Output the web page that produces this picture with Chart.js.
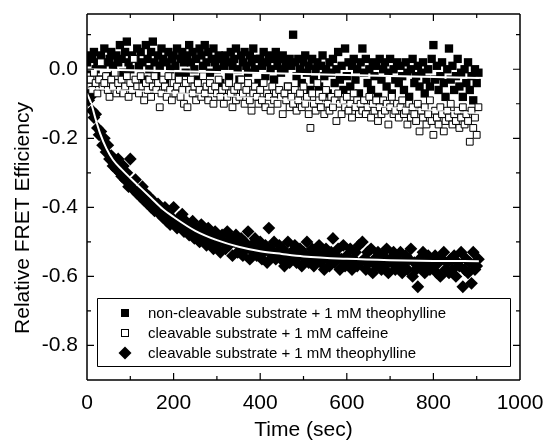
<!DOCTYPE html>
<html>
<head>
<meta charset="utf-8">
<script src="https://cdn.jsdelivr.net/npm/chart.js@4.4.1/dist/chart.umd.min.js"></script>
<style>
  html, body { margin: 0; padding: 0; background: #fff; }
  #chart { display: block; }
</style>
</head>
<body>
<canvas id="chart" width="545" height="441"></canvas>
<script>
// Sample times (sec), one reading every 4 s, shared by the three series
var times = [
  0, 4, 8, 12, 16, 20, 24, 28, 32, 36, 40, 44, 48, 52, 56, 60, 64, 68, 72, 76,
  80, 84, 88, 92, 96, 100, 104, 108, 112, 116, 120, 124, 128, 132, 136, 140, 144, 148, 152, 156,
  160, 164, 168, 172, 176, 180, 184, 188, 192, 196, 200, 204, 208, 212, 216, 220, 224, 228, 232, 236,
  240, 244, 248, 252, 256, 260, 264, 268, 272, 276, 280, 284, 288, 292, 296, 300, 304, 308, 312, 316,
  320, 324, 328, 332, 336, 340, 344, 348, 352, 356, 360, 364, 368, 372, 376, 380, 384, 388, 392, 396,
  400, 404, 408, 412, 416, 420, 424, 428, 432, 436, 440, 444, 448, 452, 456, 460, 464, 468, 472, 476,
  480, 484, 488, 492, 496, 500, 504, 508, 512, 516, 520, 524, 528, 532, 536, 540, 544, 548, 552, 556,
  560, 564, 568, 572, 576, 580, 584, 588, 592, 596, 600, 604, 608, 612, 616, 620, 624, 628, 632, 636,
  640, 644, 648, 652, 656, 660, 664, 668, 672, 676, 680, 684, 688, 692, 696, 700, 704, 708, 712, 716,
  720, 724, 728, 732, 736, 740, 744, 748, 752, 756, 760, 764, 768, 772, 776, 780, 784, 788, 792, 796,
  800, 804, 808, 812, 816, 820, 824, 828, 832, 836, 840, 844, 848, 852, 856, 860, 864, 868, 872, 876,
  880, 884, 888, 892, 896, 900, 904
];

// non-cleavable substrate + 1 mM theophylline (filled squares)
var nonCleavTheo = [
  0.02, 0.04, -0.01, 0.03, 0.05, 0.00, 0.02, -0.03, 0.04, 0.01,
  0.06, 0.02, -0.02, 0.03, 0.05, 0.01, -0.04, 0.04, 0.02, 0.07,
  0.03, -0.01, 0.05, 0.08, 0.02, 0.00, 0.04, -0.06, 0.03, 0.06,
  0.01, 0.05, 0.02, -0.03, 0.07, 0.03, 0.00, 0.05, 0.08, 0.02,
  -0.02, 0.04, 0.01, 0.06, 0.03, -0.04, 0.02, 0.05, 0.00, 0.03,
  0.04, 0.01, 0.06, -0.02, 0.03, 0.05, 0.02, -0.01, 0.04, 0.07,
  0.02, 0.05, 0.00, 0.03, -0.03, 0.06, 0.04, 0.01, 0.07, 0.02,
  0.05, -0.01, 0.03, 0.06, 0.02, 0.00, 0.04, -0.04, 0.03, 0.01,
  0.04, 0.02, -0.02, 0.05, 0.01, 0.03, 0.06, 0.00, -0.03, 0.04,
  0.02, 0.05, 0.01, -0.01, 0.04, 0.02, 0.06, 0.00, 0.03, -0.04,
  0.03, 0.01, 0.05, -0.02, 0.02, 0.04, 0.00, 0.03, -0.03, 0.05,
  0.01, 0.03, -0.01, 0.04, 0.00, 0.02, -0.05, 0.03, 0.01, 0.10,
  0.02, -0.02, 0.03, 0.00, -0.04, 0.02, 0.04, -0.01, 0.01, -0.06,
  0.03, -0.03, 0.00, 0.02, -0.05, 0.01, 0.04, -0.02, 0.00, -0.07,
  0.02, -0.01, 0.03, -0.04, 0.00, 0.05, -0.03, 0.01, -0.06, 0.06,
  -0.02, 0.02, -0.05, 0.01, 0.03, -0.03, 0.00, -0.07, 0.02, 0.06,
  -0.01, 0.03, -0.04, 0.00, -0.06, 0.02, -0.02, 0.01, -0.08, 0.03,
  -0.03, 0.00, 0.02, -0.05, -0.01, 0.03, -0.07, 0.00, -0.03, 0.02,
  -0.04, 0.01, -0.02, -0.06, 0.02, -0.01, -0.08, 0.00, 0.03, -0.04,
  -0.02, 0.01, -0.05, -0.01, 0.02, -0.07, -0.03, 0.00, -0.05, 0.03,
  0.07, -0.03, 0.01, -0.06, -0.02, 0.02, -0.04, -0.08, 0.00, 0.06,
  -0.03, 0.01, -0.06, -0.02, 0.03, -0.05, -0.01, -0.08, 0.00, -0.04,
  0.02, -0.06, -0.02, -0.09, 0.00, -0.04, -0.01
];

// cleavable substrate + 1 mM caffeine (open squares)
var cleavCaffeine = [
  -0.02, -0.05, -0.03, -0.06, -0.01, -0.04, -0.07, -0.03, 0.02, -0.05,
  -0.04, -0.02, -0.06, -0.08, -0.03, -0.05, -0.01, -0.07, -0.04, -0.06,
  -0.03, -0.07, -0.05, -0.02, -0.08, -0.04, -0.06, 0.03, -0.03, -0.05,
  -0.07, -0.02, -0.05, -0.09, -0.04, -0.06, -0.03, -0.08, -0.05, -0.02,
  -0.06, -0.04, -0.11, -0.07, -0.03, -0.05, -0.08, -0.02, -0.06, -0.09,
  -0.04, -0.07, -0.05, -0.03, -0.08, -0.06, -0.10, -0.04, -0.11, -0.06,
  -0.03, -0.07, -0.05, -0.09, -0.04, -0.06, -0.08, -0.02, -0.07, -0.05,
  -0.09, -0.04, -0.06, -0.10, -0.05, -0.07, -0.03, -0.08, -0.06, -0.10,
  -0.05, -0.08, -0.04, -0.07, -0.11, -0.06, -0.09, -0.05, -0.08, -0.03,
  -0.07, -0.10, -0.06, -0.04, -0.09, -0.12, -0.07, -0.05, -0.08, -0.10,
  -0.06, -0.09, -0.04, -0.11, -0.07, -0.08, -0.12, -0.05, -0.09, -0.07,
  -0.10, -0.06, -0.08, -0.13, -0.07, -0.09, -0.05, -0.11, -0.08, -0.10,
  -0.06, -0.12, -0.09, -0.07, -0.11, -0.05, -0.10, -0.08, -0.13, -0.17,
  -0.07, -0.10, -0.12, -0.04, -0.09, -0.11, -0.08, -0.13, -0.06, -0.10,
  -0.12, -0.08, -0.11, -0.09, -0.15, -0.07, -0.10, -0.13, -0.09, -0.11,
  -0.08, -0.12, -0.10, -0.14, -0.07, -0.11, -0.09, -0.13, -0.10, -0.12,
  -0.09, -0.13, -0.11, -0.08, -0.14, -0.10, -0.12, -0.09, -0.15, -0.11,
  -0.13, -0.09, -0.12, -0.10, -0.16, -0.11, -0.08, -0.13, -0.12, -0.10,
  -0.14, -0.11, -0.09, -0.13, -0.12, -0.16, -0.10, -0.14, -0.11, -0.13,
  -0.15, -0.10, -0.18, -0.12, -0.14, -0.11, -0.16, -0.13, -0.09, -0.15,
  -0.19, -0.12, -0.14, -0.16, -0.11, -0.13, -0.18, -0.15, -0.12, -0.14,
  -0.10, -0.16, -0.13, -0.15, -0.12, -0.17, -0.14, -0.11, -0.16, -0.13,
  -0.15, -0.21, -0.12, -0.17, -0.14, -0.19, -0.11
];

// cleavable substrate + 1 mM theophylline (filled diamonds)
var cleavTheo = [
  -0.06, -0.09, -0.08, -0.12, -0.14, -0.13, -0.17, -0.19, -0.18, -0.22,
  -0.20, -0.24, -0.22, -0.26, -0.25, -0.28, -0.27, -0.29, -0.26, -0.30,
  -0.31, -0.28, -0.32, -0.30, -0.34, -0.26, -0.33, -0.35, -0.32, -0.36,
  -0.35, -0.37, -0.34, -0.38, -0.36, -0.39, -0.37, -0.40, -0.38, -0.41,
  -0.40, -0.39, -0.42, -0.41, -0.43, -0.40, -0.44, -0.42, -0.45, -0.43,
  -0.40, -0.44, -0.46, -0.43, -0.45, -0.42, -0.47, -0.44, -0.46, -0.48,
  -0.47, -0.44, -0.49, -0.46, -0.48, -0.50, -0.45, -0.49, -0.47, -0.51,
  -0.46, -0.50, -0.48, -0.52, -0.47, -0.51, -0.49, -0.53, -0.48, -0.50,
  -0.52, -0.47, -0.51, -0.49, -0.54, -0.50, -0.48, -0.53, -0.51, -0.49,
  -0.54, -0.50, -0.52, -0.47, -0.55, -0.51, -0.53, -0.49, -0.54, -0.52,
  -0.50, -0.55, -0.53, -0.51, -0.56, -0.46, -0.52, -0.54, -0.50, -0.55,
  -0.53, -0.51, -0.55, -0.52, -0.57, -0.54, -0.50, -0.56, -0.53, -0.55,
  -0.51, -0.56, -0.54, -0.52, -0.57, -0.53, -0.55, -0.50, -0.56, -0.54,
  -0.52, -0.57, -0.55, -0.53, -0.51, -0.56, -0.54, -0.58, -0.52, -0.55,
  -0.57, -0.53, -0.49, -0.56, -0.54, -0.52, -0.58, -0.55, -0.51, -0.57,
  -0.54, -0.56, -0.52, -0.58, -0.55, -0.53, -0.57, -0.51, -0.56, -0.50,
  -0.55, -0.58, -0.53, -0.56, -0.52, -0.59, -0.55, -0.57, -0.53, -0.56,
  -0.58, -0.54, -0.57, -0.52, -0.59, -0.55, -0.56, -0.53, -0.58, -0.55,
  -0.57, -0.53, -0.59, -0.56, -0.54, -0.58, -0.55, -0.52, -0.60, -0.56,
  -0.58, -0.63, -0.55, -0.57, -0.53, -0.59, -0.56, -0.54, -0.58, -0.55,
  -0.57, -0.54, -0.59, -0.56, -0.60, -0.55, -0.53, -0.58, -0.56, -0.59,
  -0.55, -0.58, -0.54, -0.60, -0.56, -0.57, -0.53, -0.63, -0.58, -0.55,
  -0.59, -0.56, -0.62, -0.53, -0.58, -0.57, -0.55
];

// Fitted curves (white lines)
var fitTimesA = [0, 150, 300, 450, 600, 750, 905];
var fitA = [0.0, -0.004, -0.008, -0.012, -0.017, -0.021, -0.025];
var fitTimesB = [0, 300, 500, 700, 905];
var fitB = [-0.055, -0.075, -0.092, -0.11, -0.128];
var fitTimesC = [0, 10, 20, 30, 45, 60, 80, 100, 125, 150, 175, 200, 250, 300, 350, 400, 450, 500, 600, 700, 800, 905];
var fitC = [-0.07, -0.10, -0.145, -0.185, -0.23, -0.262, -0.29, -0.315, -0.345, -0.375, -0.405, -0.428,
  -0.468, -0.495, -0.514, -0.527, -0.535, -0.542, -0.549, -0.553, -0.555, -0.556];

var seriesLabels = [
  "non-cleavable substrate + 1 mM theophylline",
  "cleavable substrate + 1 mM caffeine",
  "cleavable substrate + 1 mM theophylline"
];

var FONT = '"Liberation Sans", Arial, Helvetica, sans-serif';

function toPoints(xs, ys) {
  return ys.map(function (v, i) { return { x: xs[i], y: v }; });
}

function line(ctx, x1, y1, x2, y2) {
  ctx.moveTo(x1, y1);
  ctx.lineTo(x2, y2);
}

/**
 * Frame on all four sides plus inward ticks (major + minor),
 * positioned through the chart's own scales.
 */
var framePlugin = {
  id: "frameTicks",
  afterDraw: function (chart) {
    var ctx = chart.ctx;
    var xs = chart.scales.x;
    var ys = chart.scales.y;
    var L = xs.getPixelForValue(xs.min);
    var R = xs.getPixelForValue(xs.max);
    var T = ys.getPixelForValue(ys.max);
    var B = ys.getPixelForValue(ys.min);
    ctx.save();
    ctx.strokeStyle = "#000";
    ctx.fillStyle = "#000";

    ctx.lineWidth = 1.5;
    ctx.beginPath();
    line(ctx, L, T, R, T);
    line(ctx, R, T, R, B);
    line(ctx, R, B, L, B);
    line(ctx, L, B, L, T);
    ctx.stroke();

    ctx.lineWidth = 1.2;
    ctx.beginPath();
    xs.ticks.forEach(function (t) {
      var v = Math.round(t.value);
      if (v <= 0 || v >= 1000) return;
      var len = v % 200 === 0 ? 7 : 4;
      var px = xs.getPixelForValue(v);
      line(ctx, px, B, px, B - len);
      line(ctx, px, T, px, T + len);
    });
    ys.ticks.forEach(function (t) {
      var r = Math.round(t.value * 10);
      if (r > 1 || r < -8) return;
      var len = r % 2 === 0 ? 7 : 4;
      var py = ys.getPixelForValue(r / 10);
      line(ctx, L, py, L + len, py);
      line(ctx, R, py, R - len, py);
    });
    ctx.stroke();

    // y axis title, drawn by hand because it sits below the axis centre
    ctx.font = "21px " + FONT;
    ctx.textAlign = "center";
    ctx.textBaseline = "middle";
    ctx.translate(23, 218);
    ctx.rotate(-Math.PI / 2);
    ctx.fillText("Relative FRET Efficiency", 0, 0);
    ctx.restore();
  }
};

/**
 * Boxed legend inside the plot, lower left.
 */
var legendPlugin = {
  id: "boxLegend",
  afterDatasetsDraw: function (chart) {
    var ctx = chart.ctx;
    var box = { x: 97, y: 298, w: 413, h: 68 };
    ctx.save();
    ctx.fillStyle = "#fff";
    ctx.fillRect(box.x, box.y, box.w, box.h);
    ctx.strokeStyle = "#000";
    ctx.lineWidth = 1;
    ctx.beginPath();
    ctx.rect(box.x + 0.5, box.y + 0.5, box.w, box.h);
    ctx.stroke();

    var mx = 125;
    seriesLabels.forEach(function (label, i) {
      var cy = 313 + i * 20;
      ctx.beginPath();
      if (i === 0) {
        ctx.fillStyle = "#000";
        ctx.fillRect(mx - 4, cy - 4, 8, 8);
      } else if (i === 1) {
        ctx.fillStyle = "#fff";
        ctx.fillRect(mx - 4, cy - 4, 8, 8);
        ctx.strokeRect(mx - 3.5, cy - 3.5, 7, 7);
      } else {
        ctx.fillStyle = "#000";
        ctx.moveTo(mx, cy - 6.5);
        ctx.lineTo(mx + 6.5, cy);
        ctx.lineTo(mx, cy + 6.5);
        ctx.lineTo(mx - 6.5, cy);
        ctx.closePath();
        ctx.fill();
      }
      ctx.fillStyle = "#000";
      ctx.font = "15px " + FONT;
      ctx.textAlign = "left";
      ctx.textBaseline = "middle";
      ctx.fillText(label, 148, cy + 1);
    });
    ctx.restore();
  }
};

new Chart(document.getElementById("chart"), {
  type: "scatter",
  data: {
    datasets: [
      {
        label: "fit A",
        data: toPoints(fitTimesA, fitA),
        showLine: true, pointRadius: 0,
        borderColor: "#fff", borderWidth: 2, order: 0
      },
      {
        label: "fit B",
        data: toPoints(fitTimesB, fitB),
        showLine: true, pointRadius: 0,
        borderColor: "rgba(255,255,255,0.8)", borderWidth: 1.5, order: 0
      },
      {
        label: "fit C",
        data: toPoints(fitTimesC, fitC),
        showLine: true, pointRadius: 0, cubicInterpolationMode: "monotone",
        borderColor: "#fff", borderWidth: 2, order: 0
      },
      {
        label: seriesLabels[1],
        data: toPoints(times, cleavCaffeine),
        pointStyle: "rect", pointRadius: 4.8,
        backgroundColor: "#fff", borderColor: "#000", borderWidth: 1, order: 1
      },
      {
        label: seriesLabels[2],
        data: toPoints(times, cleavTheo),
        pointStyle: "rectRot", pointRadius: 6.4,
        backgroundColor: "#000", borderColor: "#000", borderWidth: 0, order: 2
      },
      {
        label: seriesLabels[0],
        data: toPoints(times, nonCleavTheo),
        pointStyle: "rect", pointRadius: 5.9,
        backgroundColor: "#000", borderColor: "#000", borderWidth: 0, order: 3
      }
    ]
  },
  options: {
    responsive: false,
    animation: false,
    events: [],
    layout: { padding: { top: 14, right: 25, left: 0, bottom: 0 } },
    plugins: {
      legend: { display: false },
      tooltip: { enabled: false }
    },
    scales: {
      x: {
        type: "linear",
        min: 0,
        max: 1000,
        grid: { display: false, drawTicks: false },
        border: { display: false },
        ticks: {
          stepSize: 100,
          maxRotation: 0,
          autoSkip: false,
          padding: 11,
          color: "#000",
          font: { family: FONT, size: 21 },
          callback: function (v) { return v % 200 === 0 ? String(v) : ""; }
        },
        title: {
          display: true,
          text: "Time (sec)",
          color: "#000",
          font: { family: FONT, size: 21, lineHeight: 1 },
          padding: { top: 0, bottom: 0 }
        },
        afterFit: function (scale) {
          scale.height = 61;
          scale.paddingLeft = 0;
          scale.paddingRight = 0;
        }
      },
      y: {
        type: "linear",
        min: -0.9,
        max: 0.16,
        grid: { display: false, drawTicks: false },
        border: { display: false },
        ticks: {
          stepSize: 0.1,
          includeBounds: false,
          autoSkip: false,
          padding: 9,
          color: "#000",
          font: { family: FONT, size: 21 },
          callback: function (v) {
            var r = Math.round(v * 10);
            return (r % 2 === 0 && r <= 0 && r >= -8) ? (r / 10).toFixed(1) : "";
          }
        },
        afterFit: function (scale) {
          scale.width = 87;
          scale.paddingTop = 0;
          scale.paddingBottom = 0;
        }
      }
    }
  },
  plugins: [legendPlugin, framePlugin]
});
</script>
</body>
</html>
